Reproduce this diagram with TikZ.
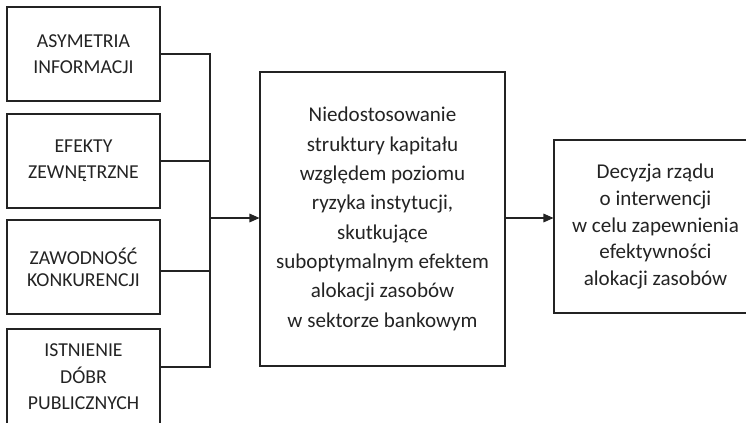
\documentclass[tikz,border=0pt]{standalone}
\usepackage{fontspec}
\setmainfont{Carlito}
\usetikzlibrary{arrows.meta}
\definecolor{ink}{RGB}{35,35,35}
\begin{document}
\begin{tikzpicture}[x=0.75pt,y=-0.75pt,
  box/.style={draw=ink, line width=0.8pt, rectangle, inner sep=0pt, align=center,
    text=ink, font=\fontsize{14.8pt}{19.8pt}\selectfont},
  conn/.style={draw=ink, line width=0.8pt},
  arr/.style={conn, -{Triangle[length=7.5pt,width=6.5pt]}}]
\useasboundingbox (0,0) rectangle (746,422);
\node[box, minimum width=153*0.75pt, minimum height=94*0.75pt] (b1) at (83.5,54) {ASYMETRIA\\INFORMACJI};
\node[box, minimum width=153*0.75pt, minimum height=94*0.75pt] (b2) at (83.5,161) {EFEKTY\\ZEWNĘTRZNE};
\node[box, minimum width=153*0.75pt, minimum height=94*0.75pt, font=\fontsize{14.8pt}{16.5pt}\selectfont] (b3) at (83.5,267) {ZAWODNOŚĆ\\KONKURENCJI};
\node[box, minimum width=153*0.75pt, minimum height=96*0.75pt] (b4) at (83.5,377) {ISTNIENIE\\DÓBR\\PUBLICZNYCH};
\node[box, minimum width=245*0.75pt, minimum height=294*0.75pt, font=\fontsize{15.8pt}{22pt}\selectfont] (m) at (382.5,219) {Niedostosowanie\\struktury kapitału\\względem poziomu\\ryzyka instytucji,\\skutkujące\\suboptymalnym efektem\\alokacji zasobów\\w sektorze bankowym};
\node[box, minimum width=203*0.75pt, minimum height=173*0.75pt, font=\fontsize{15.8pt}{20pt}\selectfont] (r) at (655.5,226.5) {Decyzja rządu\\o interwencji\\w celu zapewnienia\\efektywności\\alokacji zasobów};
\coordinate (bt) at (210,54);
\coordinate (bb) at (210,367);
\coordinate (bm) at (210,218);
\draw[conn] (b1.east |- bt) -- (bt) -- (bb) -- (b4.east |- bb);
\draw[conn] (b2.east) -- (b2.east -| bt);
\draw[conn] (b3.east |- 0,271) -- (210,271);
\draw[arr] (bm) -- (m.west |- bm);
\draw[arr] (m.east |- bm) -- (r.west |- bm);
\end{tikzpicture}
\end{document}
